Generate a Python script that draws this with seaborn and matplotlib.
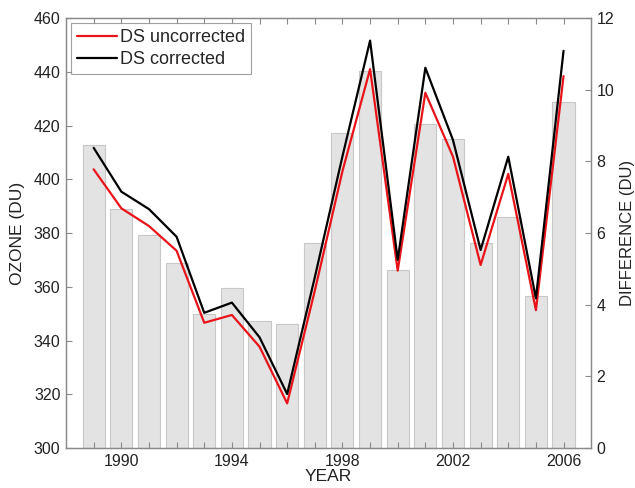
import matplotlib
matplotlib.use("Agg")
import matplotlib.pyplot as plt
import seaborn as sns
import pandas as pd

years = [1989, 1990, 1991, 1992, 1993, 1994, 1995, 1996, 1997,
         1998, 1999, 2000, 2001, 2002, 2003, 2004, 2005, 2006]
ozone_uncorrected = [403.7, 389.2, 382.6, 373.4, 346.6, 349.5, 337.7, 316.6, 358.5,
                     403.0, 441.0, 366.0, 432.2, 408.4, 368.1, 402.0, 351.3, 438.4]
ozone_corrected = [411.7, 395.4, 388.9, 378.6, 350.3, 354.1, 341.2, 320.1, 363.5,
                   408.5, 451.6, 370.0, 441.5, 414.6, 373.7, 408.4, 355.7, 447.8]
difference = [8.47, 6.67, 5.95, 5.15, 3.74, 4.47, 3.55, 3.46, 5.71,
              8.80, 10.53, 4.97, 9.04, 8.63, 5.72, 6.44, 4.24, 9.67]
year_labels = ["1990", "1994", "1998", "2002", "2006"]

df = pd.DataFrame({"year": years, "uncorr": ozone_uncorrected,
                   "corr": ozone_corrected, "diff": difference})

sns.set_style("ticks")
plt.rcParams["font.family"] = ["Liberation Sans", "DejaVu Sans"]

fig = plt.figure(figsize=(6.35, 4.88), dpi=100)
ax = fig.add_axes([0.104, 0.082, 0.827, 0.881])
ax2 = ax.twinx()

# bars on the right-hand scale, lines on the left, lines drawn on top
sns.barplot(data=df, x="year", y="diff", native_scale=True, width=0.8,
            color="#e3e3e3", saturation=1, edgecolor="#c8c8c8", linewidth=0.8,
            ax=ax2)
ax.set_zorder(ax2.get_zorder() + 1)
ax.patch.set_visible(False)

sns.lineplot(data=df, x="year", y="uncorr", color="#e8141a", linewidth=1.6,
             label="DS uncorrected", ax=ax)
sns.lineplot(data=df, x="year", y="corr", color="black", linewidth=1.6,
             label="DS corrected", ax=ax)

ax.set_xlim(1988, 2007)
ax.set_ylim(300, 460)
ax2.set_ylim(0, 12)
ax.set_yticks(range(300, 461, 20))
ax2.set_yticks(range(0, 13, 2))
ax.set_xticks(years)
ax.set_xticklabels([str(y) if str(y) in year_labels else "" for y in years])

spine_col = "#8a8a8a"
for a in (ax, ax2):
    for s in a.spines.values():
        s.set_color(spine_col)
        s.set_linewidth(0.9)
ax.tick_params(axis="both", direction="in", length=4, color=spine_col,
               labelsize=11.5, labelcolor="#222222", top=True, pad=4)
ax.tick_params(axis="y", right=False)
ax2.tick_params(axis="y", direction="in", length=4, color=spine_col,
                labelsize=11.5, labelcolor="#222222", pad=4)

ax.set_xlabel("YEAR", fontsize=12.5, labelpad=0, color="#222222")
ax.set_ylabel("OZONE (DU)", fontsize=12.5, labelpad=6, color="#222222")
ax2.set_ylabel("DIFFERENCE (DU)", fontsize=12, labelpad=4, color="#222222")

leg = ax.legend(loc="upper left", fontsize=13, frameon=True, fancybox=False,
                handlelength=2.2, handletextpad=0.2, borderpad=0.3,
                labelspacing=0.3, borderaxespad=0.3)
leg.get_frame().set_edgecolor(spine_col)
leg.get_frame().set_linewidth(0.8)

fig.savefig("out.png", dpi=100)
